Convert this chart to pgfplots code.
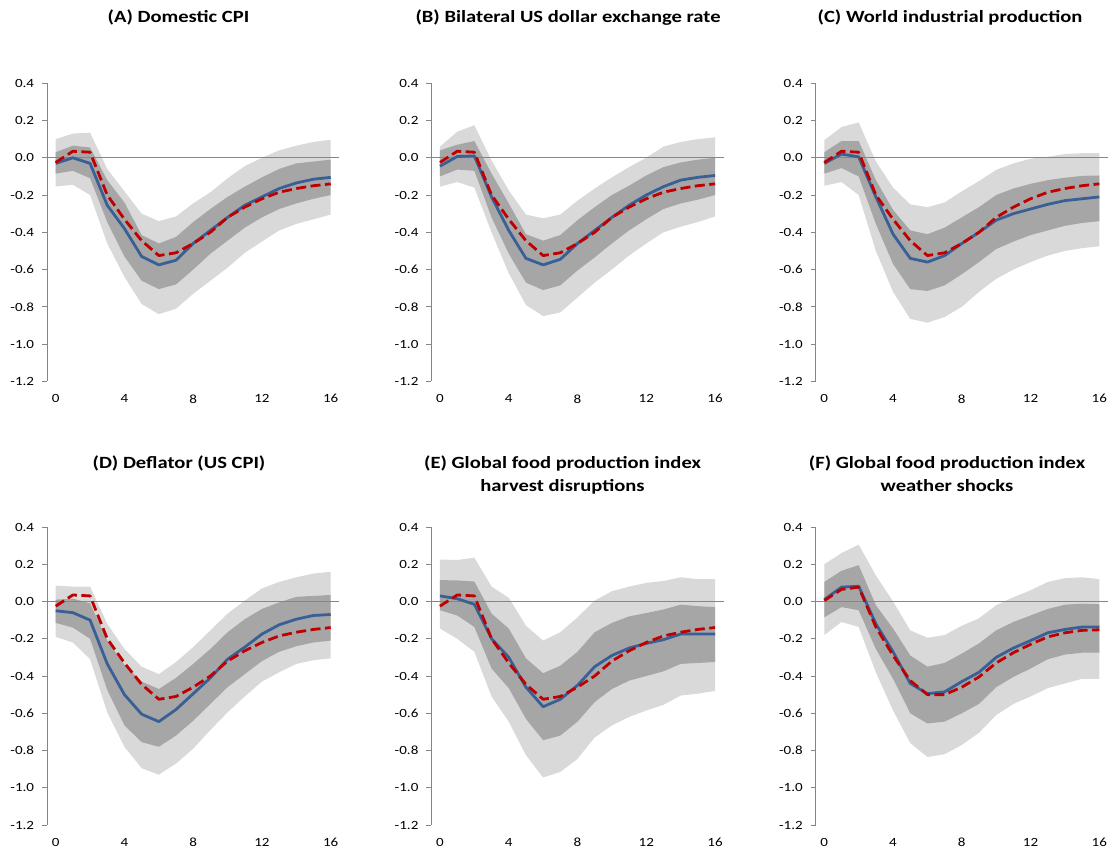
\documentclass[border=0pt]{standalone}
\usepackage{fontspec}
\setmainfont{Carlito}[FakeStretch=1.2]
\usepackage{pgfplots}
\pgfplotsset{compat=1.18}
\usepgfplotslibrary{fillbetween}
\usepackage{pgfplotstable}

\definecolor{lightband}{RGB}{217,217,217}
\definecolor{darkband}{RGB}{166,166,166}
\definecolor{irfblue}{RGB}{56,96,150}
\definecolor{irfred}{RGB}{192,0,0}
\definecolor{axisgray}{RGB}{134,134,134}

\pgfplotstableread{
x  ou     du     dl     ol     b      r
0  0.10   0.03  -0.085 -0.154 -0.03  -0.025
1  0.13   0.065 -0.07  -0.145  0.0    0.035
2  0.135  0.055 -0.11  -0.20  -0.03   0.03
3 -0.06  -0.12  -0.345 -0.46  -0.255 -0.20
4 -0.18  -0.24  -0.53  -0.64  -0.38  -0.33
5 -0.30  -0.415 -0.66  -0.785 -0.53  -0.445
6 -0.34  -0.46  -0.705 -0.84  -0.575 -0.525
7 -0.315 -0.425 -0.68  -0.81  -0.55  -0.51
8 -0.245 -0.345 -0.60  -0.73  -0.46  -0.46
9 -0.185 -0.275 -0.515 -0.66  -0.39  -0.40
10 -0.11 -0.21  -0.445 -0.59  -0.32  -0.32
11 -0.045 -0.155 -0.375 -0.51 -0.255 -0.265
12 0.0   -0.105 -0.32  -0.45  -0.21  -0.22
13 0.04  -0.06  -0.275 -0.39  -0.165 -0.185
14 0.065 -0.03  -0.245 -0.355 -0.135 -0.165
15 0.085 -0.02  -0.22  -0.33  -0.115 -0.15
16 0.097 -0.01  -0.20  -0.305 -0.105 -0.14
}\tabA

\pgfplotstableread{
x  ou     du     dl     ol     b      r
0  0.06   0.04  -0.10  -0.155 -0.045 -0.025
1  0.14   0.07  -0.063 -0.13   0.007  0.035
2  0.175  0.09  -0.07  -0.16   0.01   0.03
3 -0.015 -0.085 -0.32  -0.40  -0.21  -0.20
4 -0.175 -0.245 -0.515 -0.62  -0.39  -0.33
5 -0.305 -0.41  -0.67  -0.79  -0.54  -0.445
6 -0.325 -0.445 -0.71  -0.85  -0.575 -0.525
7 -0.305 -0.415 -0.685 -0.83  -0.545 -0.51
8 -0.23  -0.335 -0.605 -0.75  -0.46  -0.46
9 -0.165 -0.265 -0.535 -0.67  -0.39  -0.40
10 -0.105 -0.20 -0.46  -0.60  -0.32  -0.32
11 -0.05 -0.15  -0.39  -0.525 -0.255 -0.265
12 0.0   -0.095 -0.33  -0.46  -0.20  -0.22
13 0.06  -0.05  -0.275 -0.40  -0.155 -0.185
14 0.085 -0.025 -0.245 -0.37  -0.12  -0.165
15 0.10  -0.01  -0.225 -0.345 -0.105 -0.15
16 0.11   0.0   -0.20  -0.315 -0.095 -0.14
}\tabB

\pgfplotstableread{
x  ou     du     dl     ol     b      r
0  0.095  0.03  -0.085 -0.15  -0.03  -0.025
1  0.165  0.09  -0.055 -0.13   0.02   0.035
2  0.19   0.09  -0.10  -0.20   0.005  0.03
3 -0.02  -0.12  -0.355 -0.50  -0.21  -0.20
4 -0.16  -0.28  -0.57  -0.72  -0.41  -0.33
5 -0.25  -0.39  -0.705 -0.865 -0.54  -0.445
6 -0.265 -0.41  -0.715 -0.885 -0.56  -0.525
7 -0.24  -0.375 -0.685 -0.855 -0.525 -0.51
8 -0.18  -0.32  -0.625 -0.80  -0.46  -0.46
9 -0.125 -0.265 -0.56  -0.72  -0.40  -0.40
10 -0.065 -0.20 -0.49  -0.65  -0.335 -0.32
11 -0.03 -0.165 -0.45  -0.60  -0.30  -0.265
12 -0.005 -0.14 -0.415 -0.56  -0.275 -0.22
13 0.005 -0.12  -0.39  -0.525 -0.25  -0.185
14 0.02  -0.107 -0.365 -0.50  -0.23  -0.165
15 0.025 -0.097 -0.35  -0.485 -0.22  -0.15
16 0.025 -0.095 -0.34  -0.475 -0.21  -0.14
}\tabC

\pgfplotstableread{
x  ou     du     dl     ol     b      r
0  0.085  0.01  -0.115 -0.19  -0.05  -0.025
1  0.08   0.015 -0.14  -0.22  -0.06   0.035
2  0.08  -0.01  -0.20  -0.31  -0.10   0.03
3 -0.12  -0.21  -0.475 -0.595 -0.335 -0.20
4 -0.255 -0.34  -0.665 -0.78  -0.50  -0.33
5 -0.35  -0.43  -0.755 -0.895 -0.605 -0.445
6 -0.39  -0.47  -0.78  -0.93  -0.645 -0.525
7 -0.325 -0.41  -0.72  -0.87  -0.58  -0.51
8 -0.245 -0.335 -0.64  -0.79  -0.495 -0.46
9 -0.155 -0.255 -0.55  -0.69  -0.41  -0.40
10 -0.065 -0.165 -0.46 -0.595 -0.31  -0.32
11 0.005 -0.095 -0.39  -0.51  -0.245 -0.265
12 0.07  -0.04  -0.32  -0.43  -0.175 -0.22
13 0.105 -0.005 -0.27  -0.38  -0.125 -0.185
14 0.13   0.025 -0.24  -0.335 -0.095 -0.165
15 0.15   0.03  -0.22  -0.315 -0.075 -0.15
16 0.16   0.035 -0.21  -0.305 -0.07  -0.14
}\tabD

\pgfplotstableread{
x  ou     du     dl     ol     b      r
0  0.225  0.115 -0.047 -0.145  0.03  -0.025
1  0.223  0.113 -0.075 -0.20   0.015  0.035
2  0.235  0.107 -0.137 -0.27  -0.015  0.03
3  0.08  -0.065 -0.36  -0.51  -0.20  -0.20
4  0.02  -0.145 -0.465 -0.645 -0.30  -0.33
5 -0.13  -0.305 -0.63  -0.825 -0.46  -0.445
6 -0.21  -0.385 -0.745 -0.945 -0.565 -0.525
7 -0.165 -0.345 -0.72  -0.915 -0.525 -0.51
8 -0.085 -0.27  -0.645 -0.845 -0.45  -0.46
9  0.005 -0.165 -0.54  -0.73  -0.35  -0.40
10 0.055 -0.115 -0.47  -0.665 -0.29  -0.32
11 0.08  -0.08  -0.425 -0.62  -0.25  -0.265
12 0.10  -0.062 -0.40  -0.585 -0.225 -0.22
13 0.11  -0.043 -0.375 -0.555 -0.205 -0.185
14 0.13  -0.017 -0.335 -0.505 -0.175 -0.165
15 0.12  -0.025 -0.33  -0.495 -0.175 -0.15
16 0.12  -0.03  -0.325 -0.48  -0.175 -0.14
}\tabE

\pgfplotstableread{
x  ou     du     dl     ol     b      r
0  0.20   0.105 -0.085 -0.18   0.01   0.005
1  0.26   0.165 -0.03  -0.11   0.077  0.065
2  0.305  0.195 -0.047 -0.137  0.082  0.077
3  0.14  -0.02  -0.255 -0.38  -0.12  -0.137
4  0.0   -0.145 -0.415 -0.585 -0.27  -0.29
5 -0.155 -0.29  -0.60  -0.76  -0.44  -0.425
6 -0.195 -0.35  -0.655 -0.835 -0.495 -0.50
7 -0.18  -0.33  -0.645 -0.82  -0.485 -0.50
8 -0.13  -0.28  -0.60  -0.77  -0.43  -0.46
9 -0.09  -0.225 -0.55  -0.705 -0.38  -0.405
10 -0.02 -0.155 -0.46  -0.61  -0.30  -0.33
11 0.023 -0.11  -0.405 -0.55  -0.25  -0.275
12 0.06  -0.075 -0.36  -0.51  -0.21  -0.23
13 0.105 -0.04  -0.31  -0.465 -0.168 -0.19
14 0.125 -0.017 -0.285 -0.44  -0.15  -0.168
15 0.13  -0.012 -0.275 -0.415 -0.137 -0.155
16 0.12  -0.015 -0.275 -0.415 -0.137 -0.152
}\tabF

\pgfplotsset{irf/.style={
  scale only axis, width=292.2bp, height=298bp,
  xmin=-0.5, xmax=16.5, ymin=-1.2, ymax=0.4,
  axis line style={draw=none},
  xtick={0,4,8,12,16},
  ytick={-1.2,-1.0,-0.8,-0.6,-0.4,-0.2,0,0.2,0.4},
  yticklabels={-1.2,-1.0,-0.8,-0.6,-0.4,-0.2,0.0,0.2,0.4},
  xticklabels={0,4,8,12,16},
  ytick pos=left, xtick pos=left,
  tick align=outside, major tick length=5bp,
  xtick style={draw=none},
  ytick style={draw=axisgray, line width=0.8bp},
  ticklabel style={font=\fontsize{12.6}{15}\selectfont, text=black},
  yticklabel style={anchor=east, inner sep=0pt, xshift=-7.8bp},
  xticklabel style={anchor=north, inner sep=0pt, yshift=-8bp},
  clip=false,
}}

\newcommand{\irfpanel}[3]{%
\begin{axis}[irf, at={(#1,#2)}, anchor=south west]
\addplot[draw=none, name path=ou] table[x=x,y=ou]{#3};
\addplot[draw=none, name path=ol] table[x=x,y=ol]{#3};
\addplot[fill=lightband, draw=none] fill between[of=ou and ol];
\addplot[draw=none, name path=du] table[x=x,y=du]{#3};
\addplot[draw=none, name path=dl] table[x=x,y=dl]{#3};
\addplot[fill=darkband, draw=none] fill between[of=du and dl];
\addplot[axisgray, line width=0.8bp] coordinates {(-0.5,0) (16.5,0)};
\addplot[axisgray, line width=0.8bp] coordinates {(-0.5,-1.2) (-0.5,0.4)};
\addplot[irfblue, line width=2.8bp, line join=round] table[x=x,y=b]{#3};
\addplot[irfred, line width=2.8bp, dash pattern=on 10bp off 4.5bp, line join=round] table[x=x,y=r]{#3};
\end{axis}}

\begin{document}
\begin{tikzpicture}
\irfpanel{47.1bp}{472.7bp}{\tabA}
\irfpanel{431.4bp}{472.7bp}{\tabB}
\irfpanel{815.7bp}{472.7bp}{\tabC}
\irfpanel{47.1bp}{29bp}{\tabD}
\irfpanel{431.4bp}{29bp}{\tabE}
\irfpanel{815.7bp}{29bp}{\tabF}
\begin{scope}[every node/.style={font=\bfseries\fontsize{17.2}{20}\selectfont, anchor=base, inner sep=0pt}]
\node at (178.5bp,831.3bp) {(A) Domestic CPI};
\node at (568bp,831.3bp) {(B) Bilateral US dollar exchange rate};
\node at (950bp,831.3bp) {(C) World industrial production};
\node at (179bp,385bp) {(D) Deflator (US CPI)};
\node at (562.5bp,385bp) {(E) Global food production index};
\node at (562.5bp,362bp) {harvest disruptions};
\node at (947bp,385bp) {(F) Global food production index};
\node at (947bp,362bp) {weather shocks};
\end{scope}
\path (0,0) rectangle (1114bp,854bp);
\end{tikzpicture}
\end{document}
